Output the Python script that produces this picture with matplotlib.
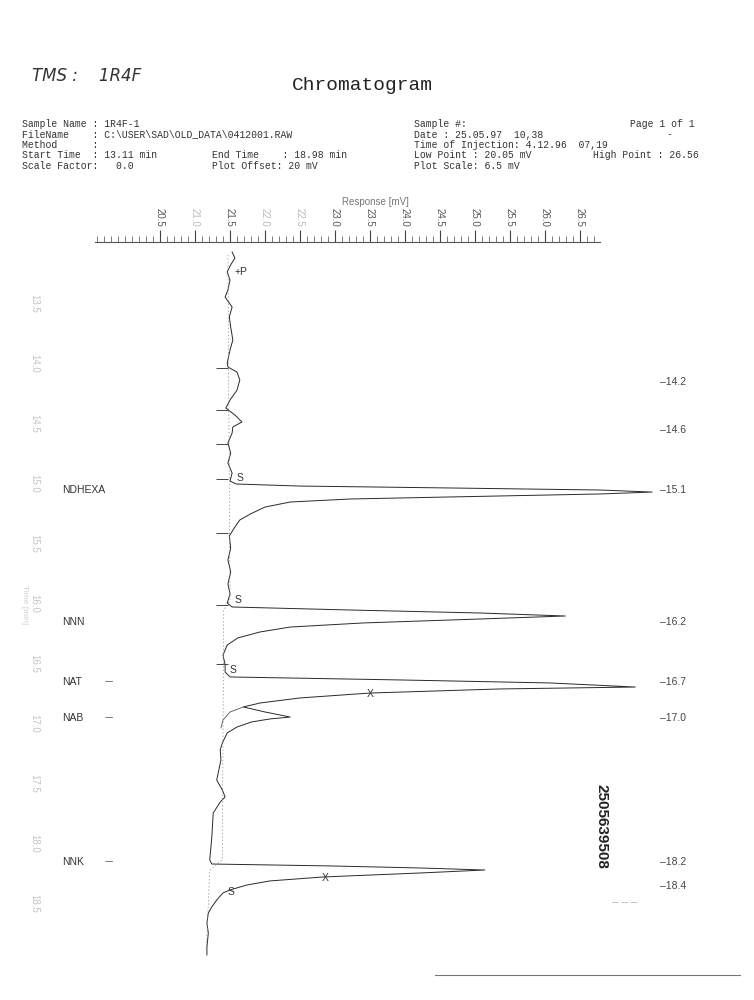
import matplotlib
matplotlib.use("Agg")
import matplotlib.pyplot as plt
from matplotlib.ticker import MultipleLocator

# detector trace: retention time [min] and response [mV]
trace_min = [
    13.117, 13.167, 13.233, 13.283, 13.350, 13.433, 13.492, 13.575, 13.658, 13.742,
    13.850, 13.933, 14.042, 14.075, 14.117, 14.183, 14.267, 14.350, 14.417, 14.475,
    14.533, 14.575, 14.625, 14.708, 14.792, 14.875, 14.958, 15.025, 15.050,
    # NDHEXA
    15.067, 15.083, 15.100, 15.117, 15.133, 15.158, 15.175, 15.200, 15.242,
    15.300, 15.350, 15.417, 15.483, 15.583, 15.683, 15.783, 15.883, 15.967,
    16.042, 16.075,
    # NNN
    16.100, 16.125, 16.150, 16.175, 16.208, 16.242, 16.283, 16.333, 16.392,
    16.475, 16.558, 16.617, 16.658,
    # NAT / NAB
    16.683, 16.708, 16.742, 16.758, 16.792, 16.833, 16.875, 16.908,
    16.950, 16.992, 17.008, 17.033, 17.075, 17.125, 17.208, 17.267, 17.350,
    17.517, 17.600, 17.658, 17.700, 17.792, 17.992, 18.183, 18.217,
    # NNK
    18.233, 18.250, 18.267, 18.292, 18.325, 18.358, 18.392, 18.433, 18.458,
    18.517, 18.575, 18.625, 18.708, 18.792, 18.908, 18.975,
]
trace_mv = [
    21.53, 21.57, 21.50, 21.46, 21.50, 21.47, 21.43, 21.53, 21.49, 21.51,
    21.54, 21.50, 21.46, 21.47, 21.60, 21.64, 21.60, 21.50, 21.44, 21.57,
    21.67, 21.54, 21.53, 21.47, 21.51, 21.47, 21.53, 21.50, 21.59,
    22.50, 24.64, 26.79, 27.53, 26.79, 24.64, 23.21, 22.36, 22.00,
    21.79, 21.64, 21.56, 21.49, 21.51, 21.47, 21.51, 21.47, 21.50,
    21.46, 21.53,
    23.21, 25.07, 26.29, 25.07, 23.40, 22.36, 21.93, 21.61, 21.46,
    21.40, 21.43, 21.43, 21.50,
    23.93, 26.07, 27.29, 25.36, 23.50, 22.50, 21.93, 21.69,
    22.00, 22.36, 22.07, 21.81, 21.60, 21.46, 21.39, 21.36, 21.37,
    21.31, 21.39, 21.43, 21.36, 21.26, 21.24, 21.21, 21.24,
    22.93, 24.21, 25.14, 24.21, 22.83, 22.07, 21.74, 21.50, 21.40,
    21.31, 21.24, 21.19, 21.17, 21.19, 21.17, 21.17,
]

# drop line between NAT and NAB
split_min = [16.908, 16.950, 17.017, 17.083]
split_mv = [21.69, 21.50, 21.40, 21.37]

# integrator baseline (dotted)
base_min = [13.14, 16.02, 16.10, 18.18, 18.27, 18.975]
base_mv = [21.47, 21.50, 21.41, 21.39, 21.21, 21.16]

# event tick marks on the trace
event_min = [14.08, 14.43, 14.72, 15.01, 15.46, 16.06, 16.55]

peak_names = ["NDHEXA", "NNN", "NAT", "NAB", "NNK"]
peak_min = [15.1, 16.2, 16.7, 17.0, 18.2]
peak_dash = [False, False, True, True, True]

ret_times = [14.2, 14.6, 15.1, 16.2, 16.7, 17.0, 18.2, 18.4]

resp_ticks = [20.5, 21.0, 21.5, 22.0, 22.5, 23.0, 23.5, 24.0, 24.5, 25.0, 25.5, 26.0, 26.5]
time_ticks = [13.5, 14.0, 14.5, 15.0, 15.5, 16.0, 16.5, 17.0, 17.5, 18.0, 18.5]

header_left = [
    "Sample Name : 1R4F-1",
    "FileName    : C:\\USER\\SAD\\OLD_DATA\\0412001.RAW",
    "Method      :",
    "Start Time  : 13.11 min",
    "Scale Factor:   0.0",
]
header_mid = ["", "", "", "End Time    : 18.98 min", "Plot Offset: 20 mV"]
header_right = [
    "Sample #:",
    "Date : 25.05.97  10,38",
    "Time of Injection: 4.12.96  07,19",
    "Low Point : 20.05 mV",
    "Plot Scale: 6.5 mV",
]

W, H = 754, 1000
fig = plt.figure(figsize=(W / 100, H / 100), dpi=100)


def fx(px):
    return px / W


def fy(py):
    return 1 - py / H


mono = "Liberation Mono"
sans = "Liberation Sans"
ink = "#2a2a2a"

# --- page header ---
fig.text(fx(32), fy(76), "TMS :    1R4F", fontsize=12, style="italic",
         family="DejaVu Sans", color="#333", va="center")
fig.text(fx(362), fy(85), "Chromatogram", fontsize=14, family=mono,
         color="#222", ha="center", va="center")
rows_y = [124, 134.5, 145, 155.3, 165.7]
for y, a, b, c in zip(rows_y, header_left, header_mid, header_right):
    fig.text(fx(22), fy(y), a, fontsize=7, family=mono, color="#333", va="center")
    if b:
        fig.text(fx(212), fy(y), b, fontsize=7, family=mono, color="#333", va="center")
    fig.text(fx(414), fy(y), c, fontsize=7, family=mono, color="#333", va="center")
fig.text(fx(630), fy(rows_y[0]), "Page 1 of 1", fontsize=7, family=mono,
         color="#333", va="center")
fig.text(fx(666), fy(rows_y[1]), "-", fontsize=7, family=mono, color="#333", va="center")
fig.text(fx(593), fy(rows_y[3]), "High Point : 26.56", fontsize=7, family=mono,
         color="#333", va="center")

# --- plot area ---
ax = fig.add_axes([fx(95), fy(960), fx(600) - fx(95), fy(242) - fy(960)])
ax.set_xlim(19.571, 26.786)
ax.set_ylim(19.017, 13.033)

ax.plot(trace_mv, trace_min, color=ink, lw=0.7, clip_on=False)
ax.plot(split_mv, split_min, color="#555", lw=0.6, clip_on=False)
ax.plot(base_mv, base_min, color="#888", lw=0.5, ls=(0, (2, 3)), clip_on=False)
ax.plot([21.386] * len(event_min), event_min, ls="none", marker="_",
        markersize=9, mew=0.7, color="#444", clip_on=False)

for s in ["left", "right", "bottom"]:
    ax.spines[s].set_visible(False)
ax.spines["top"].set_color("#555")
ax.spines["top"].set_linewidth(0.8)

ax.xaxis.tick_top()
ax.set_xticks(resp_ticks)
ax.set_xticklabels([f"{v:.1f}" for v in resp_ticks], family=sans)
ax.xaxis.set_minor_locator(MultipleLocator(0.1))
ax.tick_params(axis="x", which="major", direction="out", length=9, width=0.8,
               labelsize=7, labelrotation=-90, pad=2, colors="#444")
ax.tick_params(axis="x", which="minor", direction="out", length=4.5, width=0.6,
               colors="#666")
for lab, v in zip(ax.get_xticklabels(), resp_ticks):
    lab.set_color("#bbbbbb" if v in (21.0, 22.0, 22.5) else "#555")

ax.set_yticks(time_ticks)
ax.set_yticklabels([f"{v:.1f}" for v in time_ticks], family=sans)
ax.tick_params(axis="y", length=0, pad=40, labelsize=7, labelrotation=-90,
               labelcolor="#c4c4c4")
fig.text(fx(375), fy(202), "Response [mV]", fontsize=7, family=sans, color="#777",
         ha="center", va="center")
fig.text(fx(24), fy(605), "Time [min]", fontsize=6, family=sans, color="#cfcfcf",
         rotation=-90, ha="center", va="center")

# peak markers along the trace
marks = [("+P", 21.56, 13.283), ("S", 21.59, 15.0), ("S", 21.57, 16.017),
         ("S", 21.50, 16.6), ("S", 21.47, 18.45)]
for t, x, y in marks:
    ax.text(x, y, t, fontsize=7.5, family=sans, color="#333", va="center", ha="left")
for x, y in [(23.50, 16.8), (22.86, 18.333)]:
    ax.text(x, y, "X", fontsize=7.5, family=sans, color="#333", va="center", ha="center")

# compound names on the left
for name, t, dash in zip(peak_names, peak_min, peak_dash):
    ax.text(19.1, t, name, fontsize=7.5, family=sans, color="#333", va="center",
            ha="left", clip_on=False)
    if dash:
        ax.text(19.71, t, "—", fontsize=6, color="#555", va="center", ha="left",
                clip_on=False)

# retention times on the right
for t in ret_times:
    ax.text(27.64, t, f"–{t:.1f}", fontsize=7.5, family=sans, color="#444",
            va="center", ha="left", clip_on=False)

fig.text(fx(602), fy(826), "2505639508", fontsize=11, fontweight="bold",
         family=sans, color="#222", rotation=-90, ha="center", va="center")
fig.text(fx(612), fy(902), "— — —", fontsize=5, color="#888", va="center")
fig.add_artist(plt.Line2D([fx(435), fx(740)], [fy(975), fy(975)],
                          color="#777", lw=0.8))

fig.savefig("out.png", dpi=100)
